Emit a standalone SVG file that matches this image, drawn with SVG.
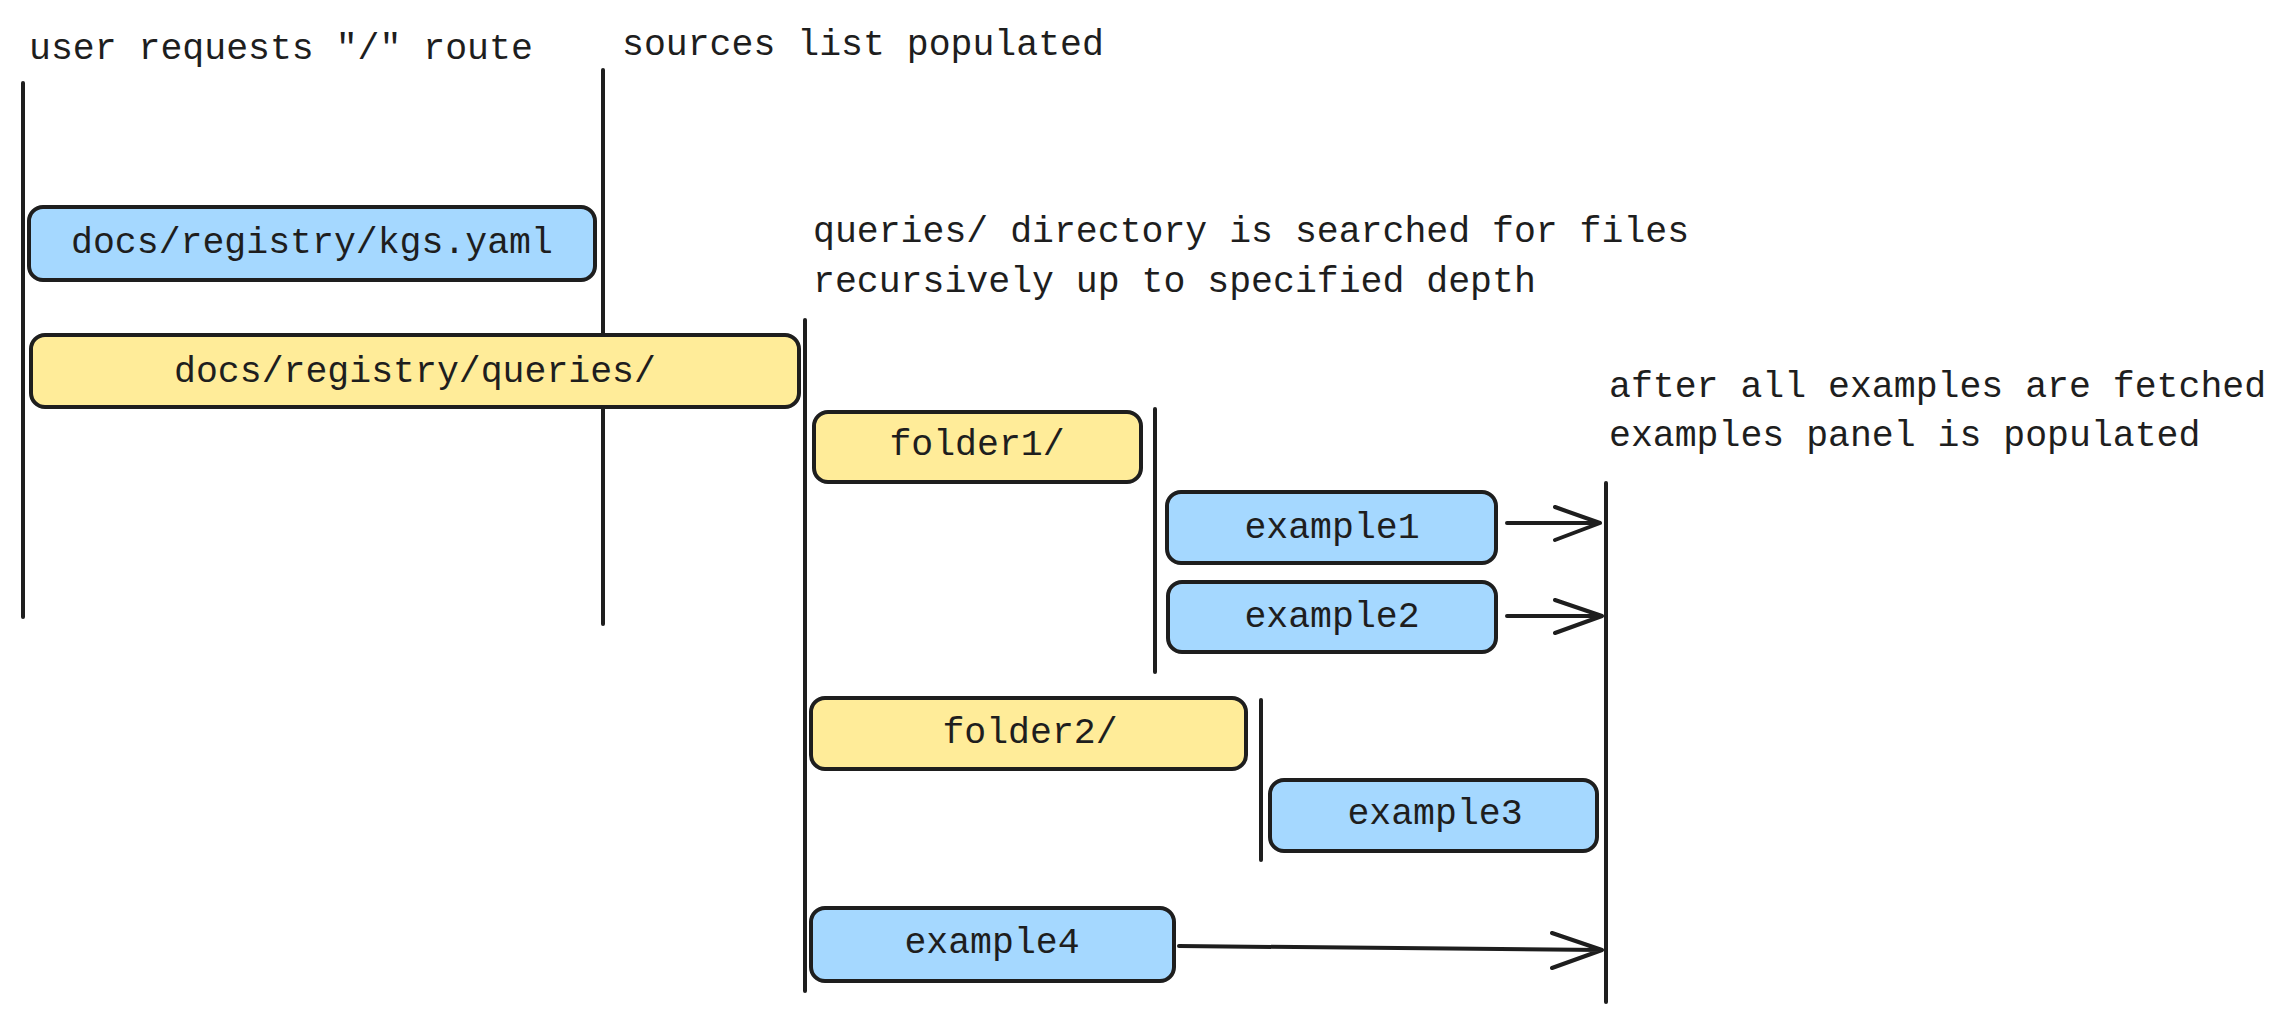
<svg xmlns="http://www.w3.org/2000/svg" width="2288" height="1023" viewBox="0 0 2288 1023">
<style>
  .t { font-family: "Liberation Mono", "DejaVu Sans Mono", monospace; font-size: 36.5px; fill: #1e1e1e; }
  .c { text-anchor: middle; }
  .box { stroke: #1e1e1e; stroke-width: 4; stroke-linejoin: round; }
  .blue { fill: #a5d8ff; }
  .yellow { fill: #ffec99; }
  .ln { stroke: #1e1e1e; stroke-width: 4; stroke-linecap: round; fill: none; stroke-linejoin: round; }
</style>
<rect width="2288" height="1023" fill="#ffffff"/>

<g id="labels">
  <text class="t" x="29" y="59">user requests "/" route</text>
  <text class="t" x="622" y="55">sources list populated</text>
  <text class="t" x="813" y="242">queries/ directory is searched for files</text>
  <text class="t" x="813" y="292">recursively up to specified depth</text>
  <text class="t" x="1609" y="397">after all examples are fetched</text>
  <text class="t" x="1609" y="446">examples panel is populated</text>
</g>

<g id="connectors">
  <line class="ln" x1="23" y1="83" x2="23" y2="617"/>
  <line class="ln" x1="603" y1="70" x2="603" y2="624"/>
  <line class="ln" x1="805" y1="320" x2="805" y2="991"/>
  <line class="ln" x1="1155" y1="409" x2="1155" y2="672"/>
  <line class="ln" x1="1261" y1="700" x2="1261" y2="860"/>
  <line class="ln" x1="1606" y1="483" x2="1606" y2="1002"/>
  <path class="ln" d="M1507 523 L1600 523 M1555 507 L1600 523 L1555 540"/>
  <path class="ln" d="M1507 616 L1602 616 M1555 600 L1602 616 L1555 633"/>
  <path class="ln" d="M1179 946 L1602 950 M1552 933 L1602 950 L1552 968"/>
</g>

<g id="kgs">
  <rect class="box blue" x="29" y="207" width="566" height="73" rx="14"/>
  <text class="t c" x="312" y="253">docs/registry/kgs.yaml</text>
</g>
<g id="queries">
  <rect class="box yellow" x="31" y="335" width="768" height="72" rx="14"/>
  <text class="t c" x="415" y="382">docs/registry/queries/</text>
</g>
<g id="folder1">
  <rect class="box yellow" x="814" y="412" width="327" height="70" rx="14"/>
  <text class="t c" x="977" y="455">folder1/</text>
</g>
<g id="example1">
  <rect class="box blue" x="1167" y="492" width="329" height="71" rx="14"/>
  <text class="t c" x="1332" y="538">example1</text>
</g>
<g id="example2">
  <rect class="box blue" x="1168" y="582" width="328" height="70" rx="14"/>
  <text class="t c" x="1332" y="627">example2</text>
</g>
<g id="folder2">
  <rect class="box yellow" x="811" y="698" width="435" height="71" rx="14"/>
  <text class="t c" x="1030" y="743">folder2/</text>
</g>
<g id="example3">
  <rect class="box blue" x="1270" y="780" width="327" height="71" rx="14"/>
  <text class="t c" x="1435" y="824">example3</text>
</g>
<g id="example4">
  <rect class="box blue" x="811" y="908" width="363" height="73" rx="14"/>
  <text class="t c" x="992" y="953">example4</text>
</g>
</svg>
